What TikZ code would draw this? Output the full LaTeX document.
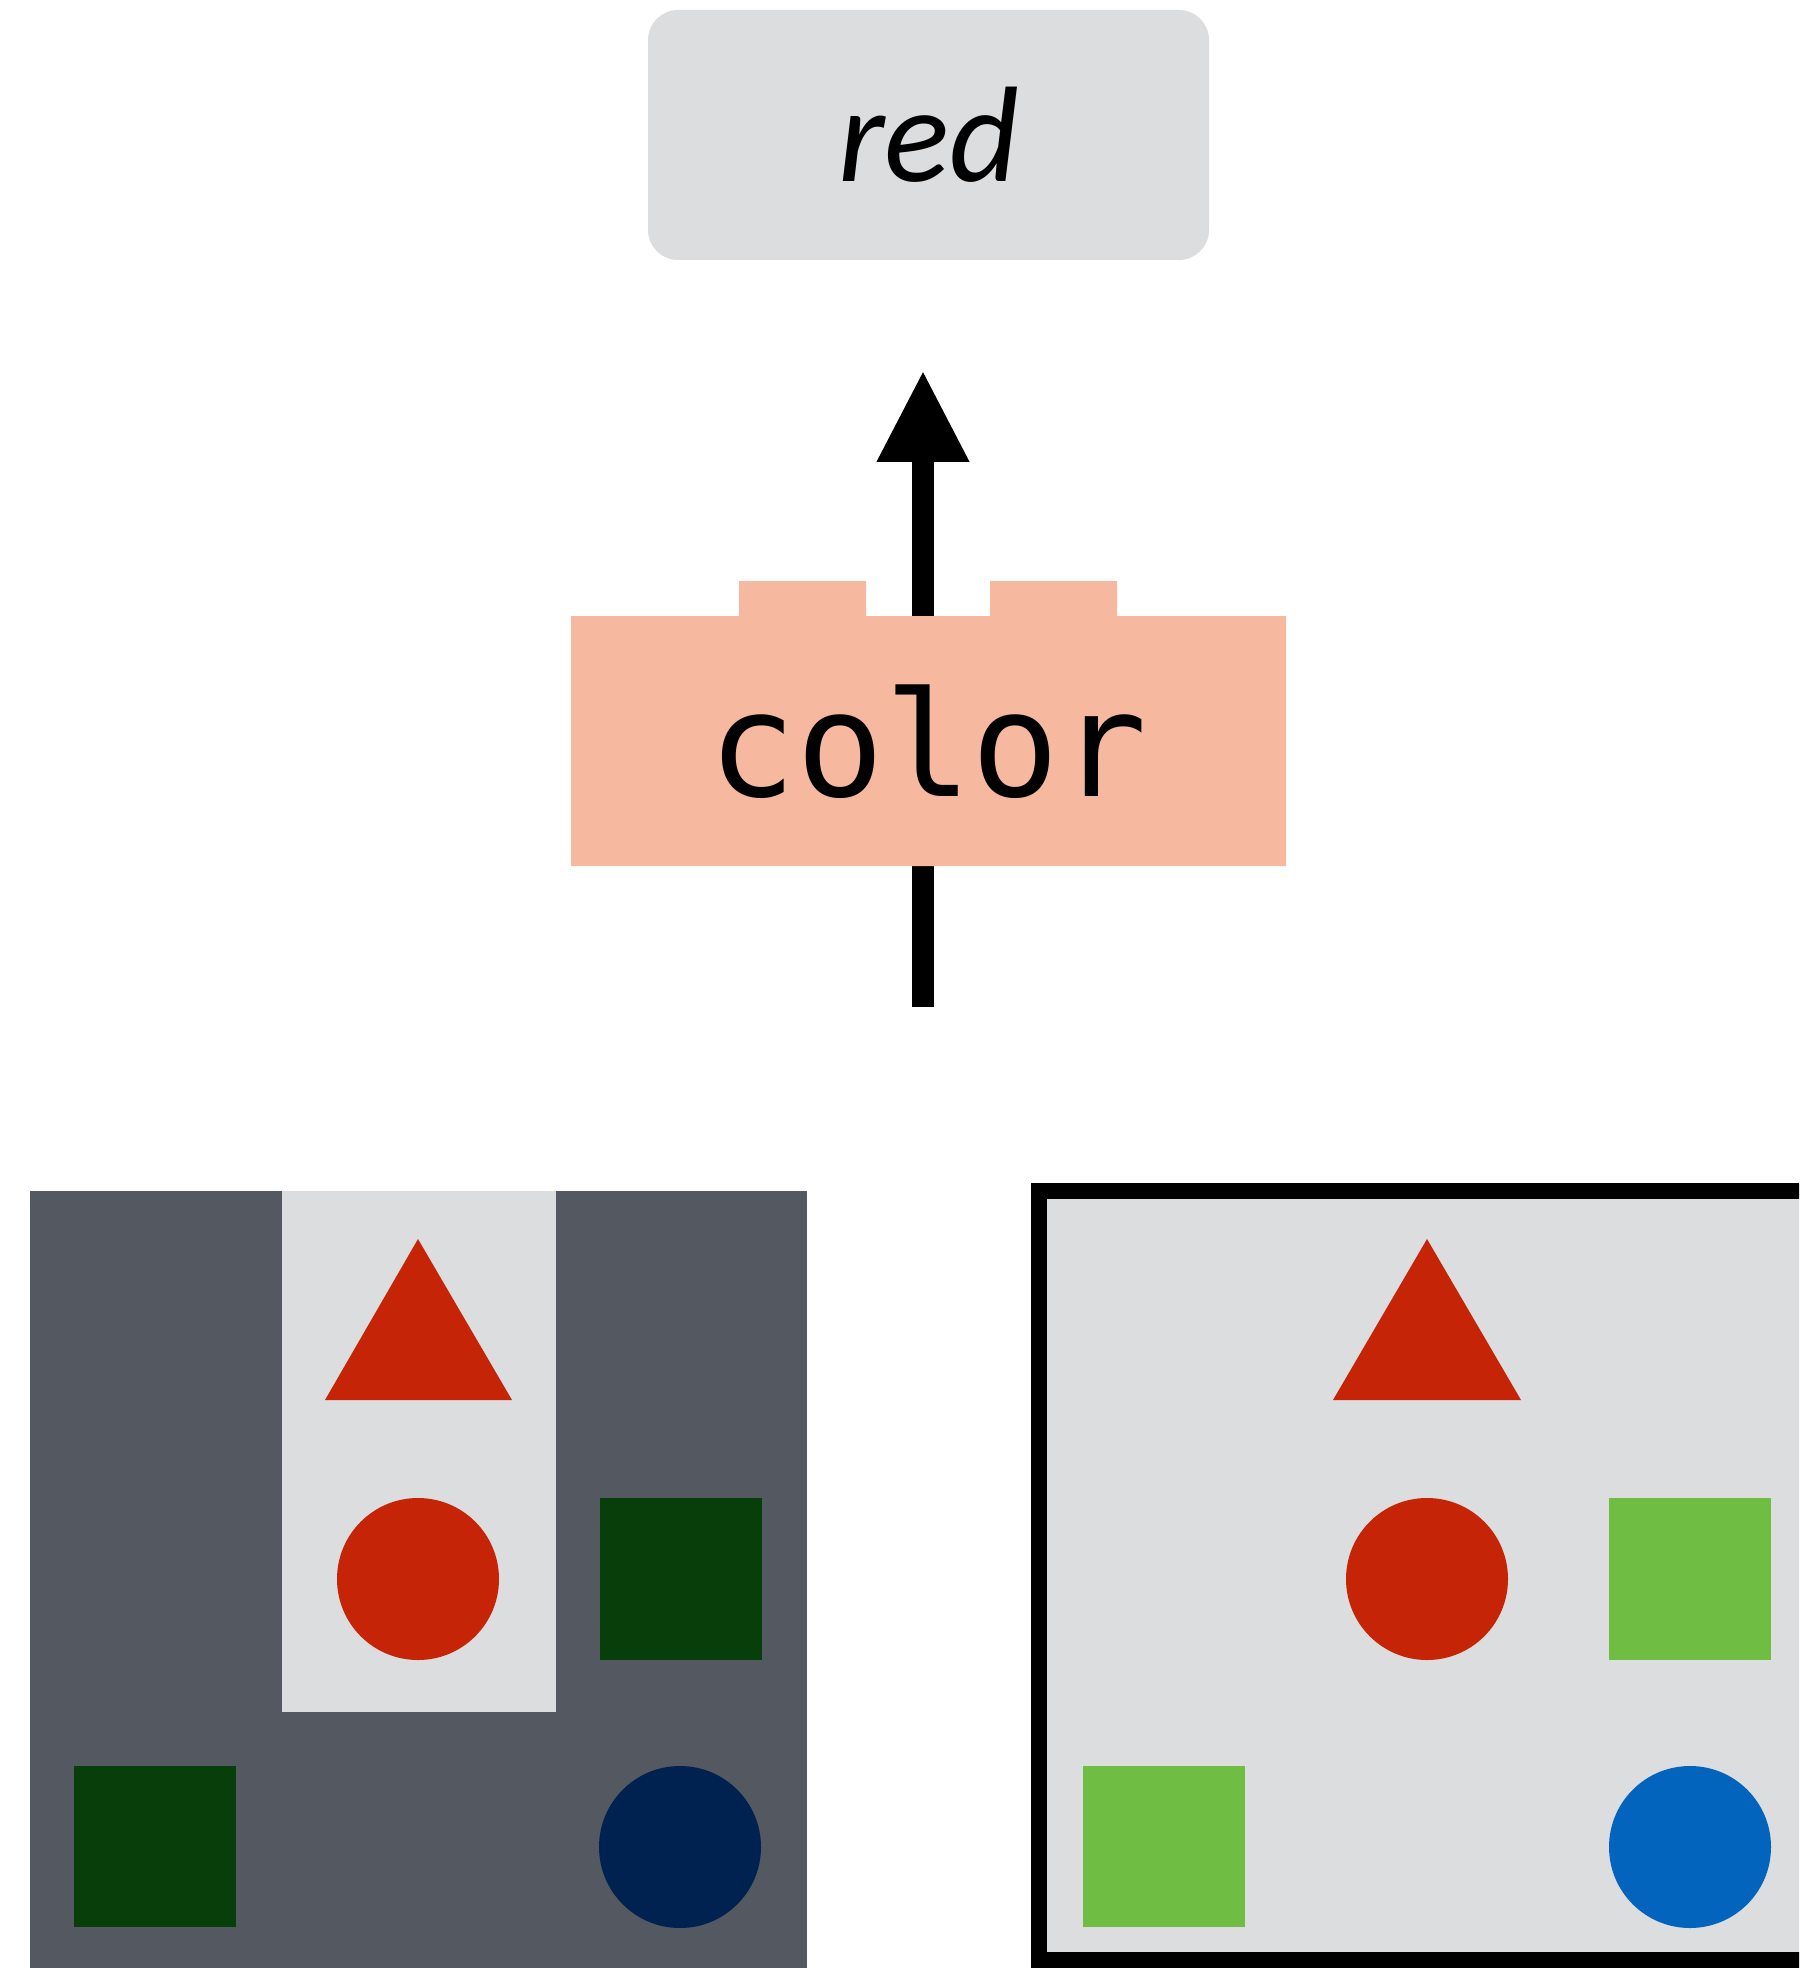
\documentclass[tikz,border=0pt]{standalone}
\usepackage{fontspec}
\newfontfamily\calfont{Carlito}
\newfontfamily\codefont{DejaVu Sans Mono}
\usetikzlibrary{arrows.meta}
\definecolor{boxgray}{HTML}{DCDDDF}
\definecolor{darkpanel}{HTML}{535861}
\definecolor{salmon}{HTML}{F6B9A0}
\definecolor{shapered}{HTML}{C52406}
\definecolor{darkgreen}{HTML}{073E0A}
\definecolor{navy}{HTML}{002250}
\definecolor{lightgreen}{HTML}{70BD43}
\definecolor{shapeblue}{HTML}{0364BE}
\tikzset{
  outbox/.style={fill=boxgray, draw=none, rounded corners=15pt, minimum width=280.5pt, minimum height=125pt, inner sep=0pt},
  outlabel/.style={font=\calfont\itshape\fontsize{68pt}{68pt}\selectfont, anchor=base, inner sep=0pt},
  funclabel/.style={font=\codefont\fontsize{73pt}{73pt}\selectfont, anchor=base, inner sep=0pt},
  flow/.style={line width=11.3pt, -{Triangle[length=46pt, width=43pt]}}
}
\begin{document}
\begin{tikzpicture}[x=0.5pt,y=-0.5pt]
\path[use as bounding box, fill=white] (0,0) rectangle (1799,1968);
\clip (0,0) rectangle (1799,1968);
% output box
\node[outbox] (redbox) at (928.5,135) {};
\node[outlabel] (redtext) at (929,182) {red};
% arrow
\coordinate (arrowfrom) at (923,1007);
\coordinate (arrowto) at (923,370);
\draw[flow] (arrowfrom) -- (arrowto);
% function block
\fill[salmon] (571,866) -- (571,616) -- (739,616) -- (739,581) -- (866,581) -- (866,616)
  -- (990,616) -- (990,581) -- (1117,581) -- (1117,616) -- (1286,616) -- (1286,866) -- cycle;
\node[funclabel] (colortext) at (928,796) {color};
% left panel
\fill[darkpanel] (30,1191) rectangle (807,1968);
\fill[boxgray] (282,1191) rectangle (556,1712);
\fill[shapered] (418,1239) -- (512,1400) -- (325,1400) -- cycle;
\fill[shapered] (418,1579) circle[radius=81];
\fill[darkgreen] (600,1498) rectangle (762,1660);
\fill[darkgreen] (74,1766) rectangle (236,1927);
\fill[navy] (680,1847) circle[radius=81];
% right panel
\filldraw[fill=boxgray, draw=black, line width=8pt] (1039,1191) rectangle (1900,1960);
\fill[shapered] (1427,1239) -- (1521,1400) -- (1333,1400) -- cycle;
\fill[shapered] (1427,1579) circle[radius=81];
\fill[lightgreen] (1609,1498) rectangle (1771,1660);
\fill[lightgreen] (1083,1766) rectangle (1245,1927);
\fill[shapeblue] (1690,1847) circle[radius=81];
\end{tikzpicture}
\end{document}
